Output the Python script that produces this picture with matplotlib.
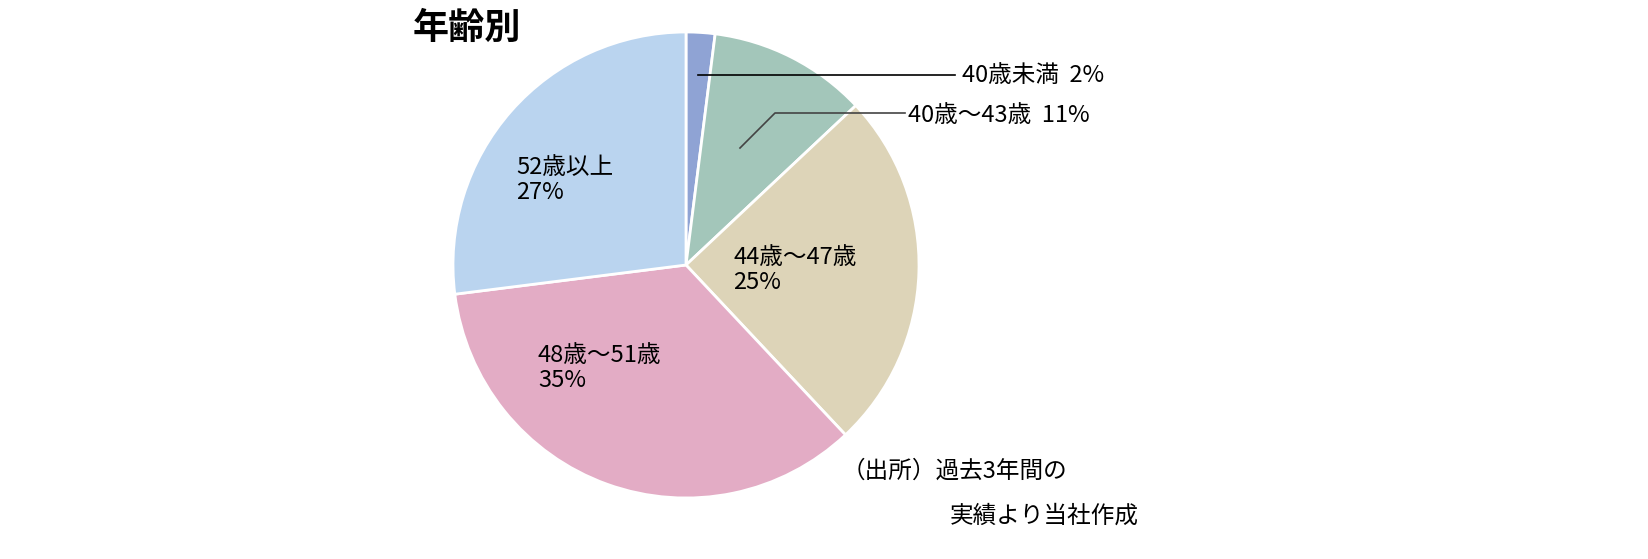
import matplotlib
matplotlib.use("Agg")
import matplotlib.pyplot as plt

plt.rcParams['font.family'] = ['Noto Sans CJK JP', 'DejaVu Sans']

categories = ["40歳未満", "40歳〜43歳", "44歳〜47歳", "48歳〜51歳", "52歳以上"]
values = [2, 11, 25, 35, 27]
colors = ["#8fa3d4", "#a3c6ba", "#ddd4b8", "#e3acc5", "#bad4ef"]

W, H = 1648, 559
fig = plt.figure(figsize=(W/100, H/100), dpi=100)
cx, cy, r = 686, 265, 233
ax = fig.add_axes([(cx-r)/W, (H-cy-r)/H, 2*r/W, 2*r/H])
ax.pie(values, colors=colors, startangle=90, counterclock=False,
       wedgeprops=dict(edgecolor="white", linewidth=2), radius=1)
ax.set_xlim(-1, 1); ax.set_ylim(-1, 1); ax.set_aspect('equal'); ax.axis('off')

def px(x, y):
    return x/W, 1-y/H

fs = 17
fig.text(*px(413, 28), "年齢別", fontsize=26, fontweight='bold', va='center', ha='left')
fig.text(*px(962, 75), f"{categories[0]}  {values[0]}%", fontsize=fs, va='center')
fig.text(*px(908, 116), f"{categories[1]}  {values[1]}%", fontsize=fs, va='center')
fig.text(*px(733, 270), f"{categories[2]}\n{values[2]}%", fontsize=fs, va='center', linespacing=1.1)
fig.text(*px(538, 368), f"{categories[3]}\n{values[3]}%", fontsize=fs, va='center', linespacing=1.1)
fig.text(*px(516, 180), f"{categories[4]}\n{values[4]}%", fontsize=fs, va='center', linespacing=1.1)
fig.text(*px(842, 471), "（出所）過去3年間の", fontsize=fs, va='center')
fig.text(*px(950, 516), "実績より当社作成", fontsize=fs, va='center')

fig.add_artist(plt.Line2D([698/W, 955/W], [1-75/H, 1-75/H], color='black', lw=1.2))
fig.add_artist(plt.Line2D([740/W, 775/W, 905/W], [1-148/H, 1-113/H, 1-113/H], color='#444444', lw=1.2))

fig.savefig("out.png", dpi=100, facecolor="white")
